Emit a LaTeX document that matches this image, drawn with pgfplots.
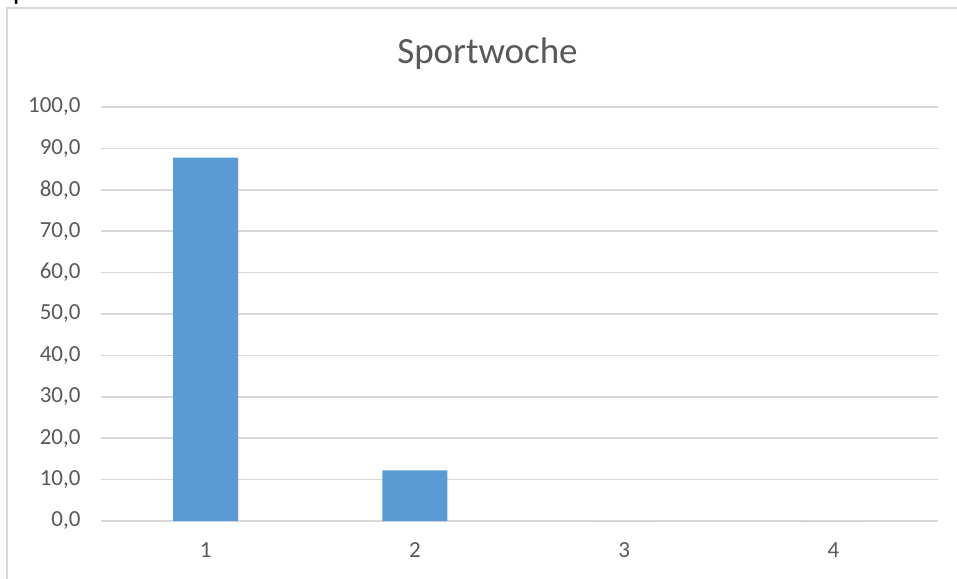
\documentclass[border=0pt]{standalone}
\usepackage{fontspec}
\setmainfont{Carlito}
\usepackage{pgfplots}
\pgfplotsset{compat=1.18}
\definecolor{barblue}{HTML}{5B9BD5}
\definecolor{gridgray}{HTML}{D9D9D9}
\definecolor{textgray}{HTML}{595959}

\begin{document}
\begin{tikzpicture}
\useasboundingbox (0,0) rectangle (957pt,578pt);
\clip (0,0) rectangle (957pt,578pt);
\fill[white] (0,0) rectangle (957pt,578pt);
% cut-off heading above the chart frame
\node[anchor=base west, inner sep=0pt, font=\fontsize{30}{31}\selectfont]
  at (-1pt,578.3pt) {Sportwoche};
% chart frame (cropped at right and bottom)
\draw[gridgray, line width=1.2pt] (7pt,-20pt) -- (7pt,570pt) -- (1000pt,570pt);
\begin{axis}[
  at={(101pt,57pt)}, anchor=south west,
  width=837pt, height=414pt, scale only axis,
  xmin=0.5, xmax=4.5,
  ymin=0, ymax=100,
  ybar, bar width=65pt,
  xtick={1,2,3,4},
  ytick={0,10,...,100},
  yticklabel={\pgfmathprintnumber[fixed,fixed zerofill,precision=1,use comma]{\tick}},
  /pgf/number format/assume math mode=true,
  ymajorgrids,
  major grid style={gridgray, line width=1.5pt},
  axis line style={draw=none},
  major tick length=0pt,
  ticklabel style={font=\fontsize{23}{24}\selectfont, text=textgray},
  yticklabel style={xshift=-17pt},
  xticklabel style={yshift=-18pt},
  title={Sportwoche},
  title style={font=\fontsize{37}{40}\selectfont, text=textgray, yshift=28pt, xshift=-32pt},
  clip=false,
]
\addplot[fill=barblue, draw=none] coordinates {(1,87.8) (2,12.2) (3,0) (4,0)};
\end{axis}
\end{tikzpicture}
\end{document}
